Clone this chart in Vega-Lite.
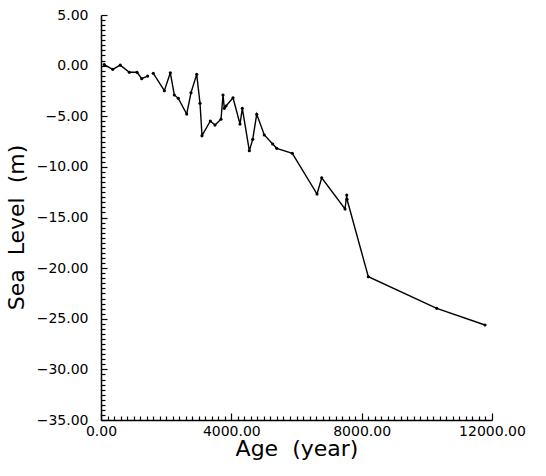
{
  "$schema": "https://vega.github.io/schema/vega-lite/v6.json",
  "width": 391,
  "height": 405,
  "autosize": "none",
  "padding": {"left": 101, "top": 15, "right": 54, "bottom": 56},
  "background": "white",
  "config": {
    "view": {"stroke": null},
    "axis": {
      "grid": false,
      "domainColor": "black",
      "domainWidth": 1.5,
      "tickColor": "black",
      "tickWidth": 1.2,
      "labelColor": "black",
      "titleColor": "black",
      "labelFont": "DejaVu Sans",
      "titleFont": "DejaVu Sans",
      "labelFontSize": 14,
      "titleFontSize": 22,
      "titleFontWeight": "normal"
    }
  },
  "data": {
    "values": [
      {"age": 100, "level": 0.1, "seg": "a"},
      {"age": 360, "level": -0.37, "seg": "a"},
      {"age": 590, "level": 0.05, "seg": "a"},
      {"age": 870, "level": -0.66, "seg": "a"},
      {"age": 1105, "level": -0.66, "seg": "a"},
      {"age": 1250, "level": -1.29, "seg": "a"},
      {"age": 1430, "level": -1.03, "seg": "a"},
      {"age": 1605, "level": -0.76, "seg": "b"},
      {"age": 1945, "level": -2.48, "seg": "b"},
      {"age": 2127, "level": -0.7, "seg": "b"},
      {"age": 2250, "level": -2.9, "seg": "b"},
      {"age": 2373, "level": -3.23, "seg": "b"},
      {"age": 2630, "level": -4.78, "seg": "b"},
      {"age": 2762, "level": -2.68, "seg": "b"},
      {"age": 2937, "level": -0.86, "seg": "b"},
      {"age": 3039, "level": -3.72, "seg": "b"},
      {"age": 3100, "level": -6.92, "seg": "b"},
      {"age": 3355, "level": -5.47, "seg": "b"},
      {"age": 3499, "level": -5.87, "seg": "b"},
      {"age": 3683, "level": -5.3, "seg": "b"},
      {"age": 3745, "level": -2.9, "seg": "b"},
      {"age": 3785, "level": -4.22, "seg": "b"},
      {"age": 3837, "level": -3.99, "seg": "b"},
      {"age": 4052, "level": -3.17, "seg": "b"},
      {"age": 4266, "level": -5.77, "seg": "b"},
      {"age": 4337, "level": -4.22, "seg": "b"},
      {"age": 4552, "level": -8.4, "seg": "b"},
      {"age": 4656, "level": -7.28, "seg": "b"},
      {"age": 4779, "level": -4.81, "seg": "b"},
      {"age": 5012, "level": -6.85, "seg": "b"},
      {"age": 5270, "level": -7.74, "seg": "b"},
      {"age": 5393, "level": -8.17, "seg": "b"},
      {"age": 5872, "level": -8.66, "seg": "b"},
      {"age": 6630, "level": -12.68, "seg": "b"},
      {"age": 6774, "level": -11.07, "seg": "b"},
      {"age": 7489, "level": -14.16, "seg": "b"},
      {"age": 7542, "level": -12.78, "seg": "b"},
      {"age": 7550, "level": -13.2, "seg": "b"},
      {"age": 8204, "level": -20.85, "seg": "b"},
      {"age": 10304, "level": -23.97, "seg": "b"},
      {"age": 11786, "level": -25.62, "seg": "b"}
    ]
  },
  "layer": [
    {
      "mark": {"type": "line", "color": "black", "strokeWidth": 1.4},
      "encoding": {
        "x": {
          "field": "age", "type": "quantitative",
          "scale": {"domain": [0, 12000], "nice": false},
          "axis": {
            "orient": "bottom",
            "values": [0, 4000, 8000, 12000],
            "format": ".2f",
            "ticks": false,
            "labelPadding": 4,
            "labelFlush": false,
            "title": "Age\u00a0\u00a0(year)",
            "titlePadding": 0
          }
        },
        "y": {
          "field": "level", "type": "quantitative",
          "scale": {"domain": [-35, 5], "nice": false, "zero": false},
          "axis": {
            "orient": "left",
            "values": [5, 0, -5, -10, -15, -20, -25, -30, -35],
            "format": ".2f",
            "ticks": false,
            "labelPadding": 13,
            "labelFlush": false,
            "title": "Sea\u00a0\u00a0Level\u00a0\u00a0(m)",
            "titleX": -85,
            "titleY": 212,
            "titleAngle": -90,
            "titleAlign": "center",
            "titleBaseline": "middle"
          }
        },
        "detail": {"field": "seg"}
      }
    },
    {
      "mark": {"type": "point", "filled": true, "color": "black", "size": 10, "opacity": 1},
      "encoding": {
        "x": {
          "field": "age", "type": "quantitative",
          "scale": {"domain": [0, 12000], "nice": false},
          "axis": {
            "orient": "top",
            "offset": -405,
            "values": [0,200,400,600,800,1000,1200,1400,1600,1800,2000,2200,2400,2600,2800,3000,3200,3400,3600,3800,4000,4200,4400,4600,4800,5000,5200,5400,5600,5800,6000,6200,6400,6600,6800,7000,7200,7400,7600,7800,8000,8200,8400,8600,8800,9000,9200,9400,9600,9800,10000,10200,10400,10600,10800,11000,11200,11400,11600,11800,12000],
            "labels": false,
            "domain": false,
            "tickSize": {"condition": {"test": "datum.value % 4000 === 0", "value": 7}, "value": 4},
            "title": null
          }
        },
        "y": {
          "field": "level", "type": "quantitative",
          "scale": {"domain": [-35, 5], "nice": false, "zero": false},
          "axis": {
            "orient": "right",
            "offset": -391,
            "values": [5,4.5,4,3.5,3,2.5,2,1.5,1,0.5,0,-0.5,-1,-1.5,-2,-2.5,-3,-3.5,-4,-4.5,-5,-5.5,-6,-6.5,-7,-7.5,-8,-8.5,-9,-9.5,-10,-10.5,-11,-11.5,-12,-12.5,-13,-13.5,-14,-14.5,-15,-15.5,-16,-16.5,-17,-17.5,-18,-18.5,-19,-19.5,-20,-20.5,-21,-21.5,-22,-22.5,-23,-23.5,-24,-24.5,-25,-25.5,-26,-26.5,-27,-27.5,-28,-28.5,-29,-29.5,-30,-30.5,-31,-31.5,-32,-32.5,-33,-33.5,-34,-34.5,-35],
            "labels": false,
            "domain": false,
            "tickSize": {"condition": {"test": "datum.value % 5 === 0", "value": 6}, "value": 4},
            "title": null
          }
        }
      }
    }
  ],
  "resolve": {"axis": {"x": "independent", "y": "independent"}}
}
